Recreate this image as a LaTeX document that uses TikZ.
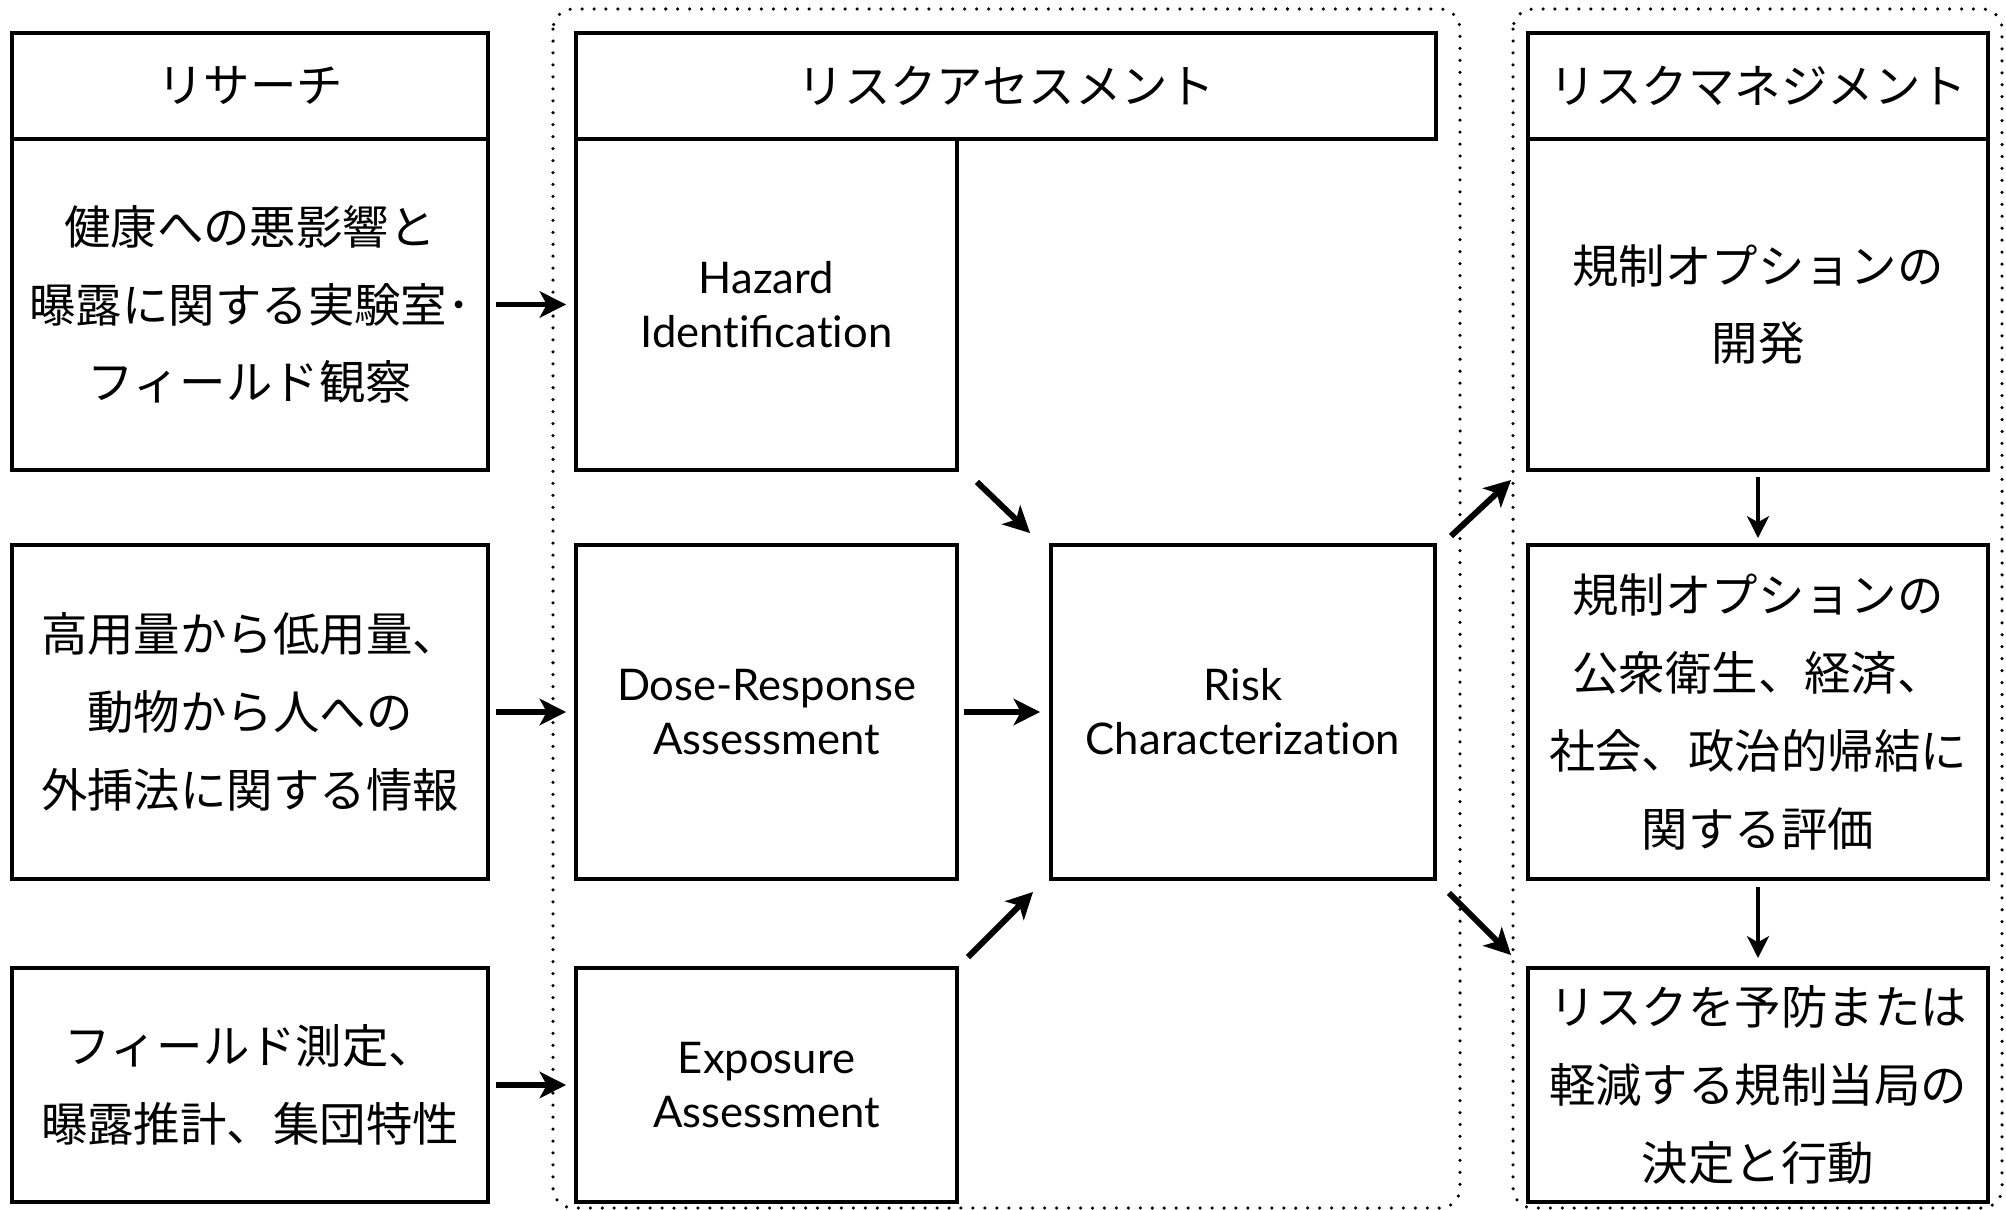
\documentclass[tikz,border=0pt]{standalone}
\usepackage{fontspec}
\setmainfont{Noto Sans CJK JP}
\newfontfamily\enfont{Lato}
\usetikzlibrary{arrows.meta,calc}
\begin{document}
\begin{tikzpicture}[x=0.01cm,y=-0.01cm,
  box/.style={draw,line width=1.1pt,inner sep=0pt,align=center,
    font=\fontsize{13.2}{22.1}\selectfont},
  enbox/.style={box,font=\enfont\fontsize{12.4}{15.4}\selectfont},
  headrow/.style={minimum height=106*0.01cm},
  row1/.style={minimum height=331*0.01cm},
  row2/.style={minimum height=334*0.01cm},
  row3/.style={minimum height=234*0.01cm},
  colres/.style={minimum width=476*0.01cm},
  colass/.style={minimum width=381*0.01cm},
  colmgmt/.style={minimum width=460*0.01cm},
  arr/.style={line width=1.7pt,-{Stealth[length=7.5pt,width=7.5pt,inset=2pt]}},
  varr/.style={line width=1.3pt,-{Stealth[length=6.2pt,width=6.2pt,inset=1.7pt]}},
  dotbox/.style={line width=1pt,line cap=round,dash pattern=on 0pt off 3.4pt,rounded corners=5.7pt}
]
\useasboundingbox (0,0) rectangle (2006,1209);
\clip (0,0) rectangle (2006,1209);

% dotted groups
\draw[dotbox] (553,9) rectangle (1460,1208);
\draw[dotbox] (1513,9) rectangle (2002,1208);

% research column
\node[box,colres,headrow] (reshead) at (250,86) {リサーチ};
\node[box,colres,row1] (res1) at (250,304.5) {健康への悪影響と\\曝露に関する実験室･\\フィールド観察};
\node[box,colres,row2] (res2) at (250,712) {高用量から低用量、\\動物から人への\\外挿法に関する情報};
\node[box,colres,row3] (res3) at (250,1085) {フィールド測定、\\曝露推計、集団特性};

% assessment column
\node[box,minimum width=860*0.01cm,headrow] (asshead) at (1006,86) {リスクアセスメント};
\node[enbox,colass,row1] (haz) at (766.5,304.5) {Hazard\\Ident\kern0pt ificat\kern0pt ion};
\node[enbox,colass,row2] (dose) at (766.5,712) {Dose-Response\\Assessment};
\node[enbox,colass,row3] (expo) at (766.5,1085) {Exposure\\Assessment};
\node[enbox,minimum width=384*0.01cm,row2] (risk) at (1243,712) {Risk\\Characterizat\kern0pt ion};

% management column
\node[box,colmgmt,headrow] (mgmthead) at (1758,86) {リスクマネジメント};
\node[box,colmgmt,row1] (opt) at (1758,304.5) {規制オプションの\\開発};
\node[box,colmgmt,row2] (eval) at (1758,712) {規制オプションの\\公衆衛生、経済、\\社会、政治的帰結に\\関する評価};
\node[box,colmgmt,row3] (dec) at (1758,1085) {リスクを予防または\\軽減する規制当局の\\決定と行動};

% arrows research -> assessment
\draw[arr] ($(res1.east)+(6,0)$) -- ($(haz.west)+(-8,0)$);
\draw[arr] ($(res2.east)+(6,0)$) -- ($(dose.west)+(-8,0)$);
\draw[arr] ($(res3.east)+(6,0)$) -- ($(expo.west)+(-8,0)$);

% assessment -> risk
\draw[arr] ($(haz.south east)+(18,10)$) -- ($(risk.north west)+(-19,-10)$);
\draw[arr] ($(dose.east)+(5,0)$) -- ($(risk.west)+(-9,0)$);
\draw[arr] ($(expo.north east)+(9,-9)$) -- ($(risk.south west)+(-16,11)$);

% risk -> management
\draw[arr] ($(risk.north east)+(14,-7)$) -- ($(opt.south west)+(-15,8)$);
\draw[arr] ($(risk.south east)+(12,12)$) -- ($(dec.north west)+(-15,-11)$);

% management vertical
\draw[varr] ($(opt.south)+(0,5)$) -- ($(eval.north)+(0,-5)$);
\draw[varr] ($(eval.south)+(0,6)$) -- ($(dec.north)+(0,-8)$);
\end{tikzpicture}
\end{document}
